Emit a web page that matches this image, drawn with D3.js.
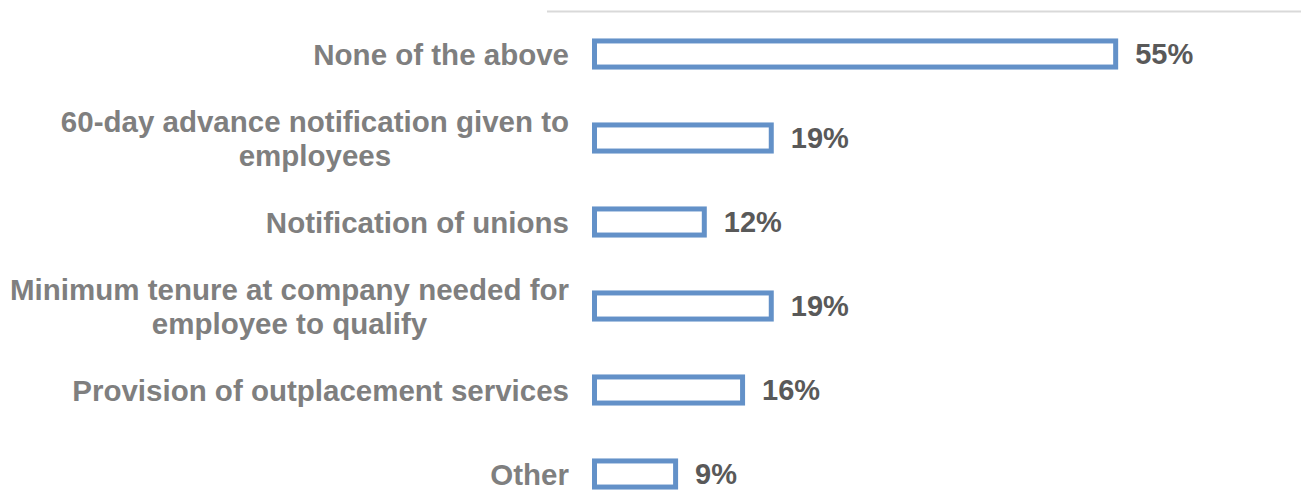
<!DOCTYPE html>
<html>
<head>
<meta charset="utf-8">
<script src="https://cdn.jsdelivr.net/npm/d3@7/dist/d3.min.js"></script>
<style>
  html, body { margin: 0; padding: 0; background: #ffffff; }
  svg { display: block; }
</style>
</head>
<body>
<svg id="chart" width="1301" height="492"></svg>
<script>
// Survey responses: share of respondents selecting each policy element
const categories = [
  ["None of the above"],
  ["60-day advance notification given to", "employees"],
  ["Notification of unions"],
  ["Minimum tenure at company needed for", "employee to qualify"],
  ["Provision of outplacement services"],
  ["Other"]
];
const values = [0.55, 0.19, 0.12, 0.19, 0.16, 0.09];
const valueLabels = ["55%", "19%", "12%", "19%", "16%", "9%"];

const W = 1301, H = 492;
const svg = d3.select("#chart");

const barColor = "#6391c8";
const strokeW = 5;

const x = d3.scaleLinear().domain([0, 0.6]).range([592, 1166]);
const y = d3.scaleBand()
  .domain(d3.range(categories.length))
  .range([12, 516])
  .paddingInner(0.63)
  .paddingOuter(0.315);

// thin rule across the top of the plot area
svg.append("line")
  .attr("x1", 547).attr("x2", W)
  .attr("y1", 11.5).attr("y2", 11.5)
  .attr("stroke", "#d9d9d9")
  .attr("stroke-width", 2);

const rows = svg.selectAll("g.row")
  .data(values)
  .join("g")
  .attr("class", "row");

// outlined bars
rows.append("rect")
  .attr("x", x(0) + strokeW / 2)
  .attr("y", (d, i) => y(i) + strokeW / 2)
  .attr("width", d => x(d) - x(0) - strokeW)
  .attr("height", y.bandwidth() - strokeW)
  .attr("fill", "#ffffff")
  .attr("stroke", barColor)
  .attr("stroke-width", strokeW);

// value labels
rows.append("text")
  .attr("x", d => x(d) + 17)
  .attr("y", (d, i) => y(i) + y.bandwidth() / 2)
  .attr("dy", "0.36em")
  .attr("font-family", "'Liberation Sans', Arial, sans-serif")
  .attr("font-weight", "bold")
  .attr("font-size", 29)
  .attr("fill", "#595959")
  .text((d, i) => valueLabels[i]);

// category labels, centred on each bar, wrapped lines centred to one another
const lineH = 34;
const labelX = 569;
categories.forEach((lines, i) => {
  const cy = y(i) + y.bandwidth() / 2;
  const t = svg.append("text")
    .attr("font-family", "'Liberation Sans', Arial, sans-serif")
    .attr("font-weight", "bold")
    .attr("font-size", 29.5)
    .attr("fill", "#7f7f7f")
    .attr("text-anchor", "end");
  const tsp = t.selectAll("tspan")
    .data(lines)
    .join("tspan")
    .attr("x", labelX)
    .attr("y", (d, j) => cy + (j - (lines.length - 1) / 2) * lineH)
    .attr("dy", "0.36em")
    .text(d => d);
  // centre the second line under the first when wrapped
  if (lines.length > 1) {
    const widths = [];
    tsp.each(function() { widths.push(this.getComputedTextLength()); });
    const maxW = d3.max(widths);
    tsp.attr("x", (d, j) => labelX - (maxW - widths[j]) / 2);
  }
});
</script>
</body>
</html>
